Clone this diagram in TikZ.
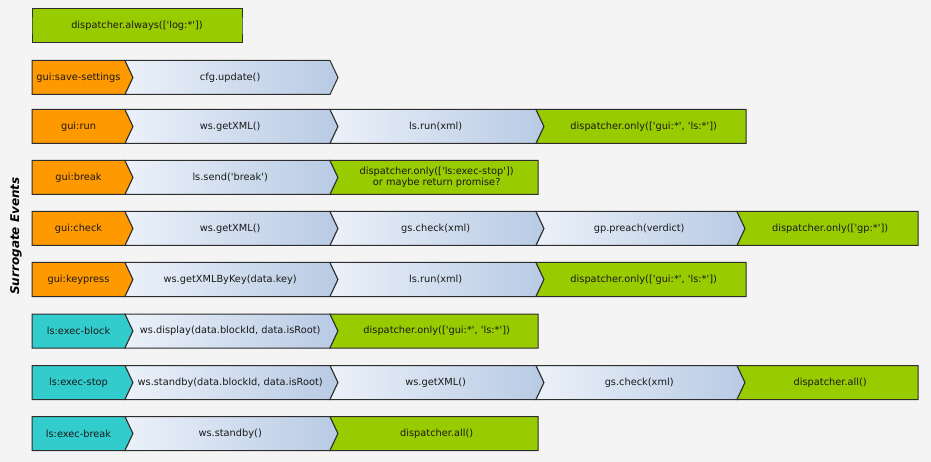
\documentclass[tikz,border=0pt]{standalone}
\usepackage{fontspec}
\setmainfont{DejaVu Sans}[Ligatures=TeXOff]
\usepackage{xcolor}
\definecolor{evorange}{RGB}{255,153,0}
\definecolor{evcyan}{RGB}{51,204,204}
\definecolor{dispgreen}{RGB}{153,204,0}
\definecolor{steplight}{RGB}{235,241,249}
\definecolor{stepdark}{RGB}{184,202,228}
\definecolor{edgegray}{RGB}{45,45,45}
\definecolor{canvas}{RGB}{244,244,244}

\tikzset{
  seg/.style={draw=edgegray,line width=1pt,line join=miter},
  guiev/.style={seg,fill=evorange},
  lsev/.style={seg,fill=evcyan},
  callstep/.style={seg,left color=steplight,right color=stepdark},
  disp/.style={seg,fill=dispgreen},
  lbl/.style={text=black!90,font=\fontsize{9.8}{11.5}\selectfont,align=center,inner sep=0pt}
}
% #1 style, #2 x0, #3 x1, #4 top, #5 notch, #6 tip, #7 name, #8 text
\newcommand{\chev}[8]{%
  \path[#1] (#2,#4) -- (#3,#4) -- ({#3+#6},{#4+17}) -- (#3,{#4+34})
    -- (#2,{#4+34}) -- ({#2+#5},{#4+17}) -- cycle;
  \node[lbl] (#7) at ({(#2+#3)/2+#5/3},{#4+17}) {#8};}

\begin{document}
\begin{tikzpicture}[x=1pt,y=-1pt]
  \fill[canvas] (0,0) rectangle (931,462);
  \useasboundingbox (0,0) rectangle (931,462);

  \node[rotate=90,font=\bfseries\itshape\fontsize{12}{14}\selectfont] (title) at (16,236) {Surrogate Events};

  % always
  \chev{disp}{32}{242}{9}{0}{0}{always}{dispatcher.always(['log:*'])}

  % gui events
  \chev{guiev}{32}{125}{60.5}{0}{8}{save}{gui:save-settings}
  \chev{callstep}{125}{330}{60.5}{8}{8}{saveA}{cfg.update()}

  \chev{guiev}{32}{125}{109.5}{0}{8}{run}{gui:run}
  \chev{callstep}{125}{330}{109.5}{8}{8}{runA}{ws.getXML()}
  \chev{callstep}{330}{536}{109.5}{8}{8}{runB}{ls.run(xml)}
  \chev{disp}{536}{746}{109.5}{8}{0}{runC}{dispatcher.only(['gui:*', 'ls:*'])}

  \chev{guiev}{32}{125}{160.5}{0}{8}{brk}{gui:break}
  \chev{callstep}{125}{330}{160.5}{8}{8}{brkA}{ls.send('break')}
  \chev{disp}{330}{538}{160.5}{8}{0}{brkB}{dispatcher.only(['ls:exec-stop'])\\or maybe return promise?}

  \chev{guiev}{32}{125}{211.5}{0}{8}{chk}{gui:check}
  \chev{callstep}{125}{330}{211.5}{8}{8}{chkA}{ws.getXML()}
  \chev{callstep}{330}{536}{211.5}{8}{8}{chkB}{gs.check(xml)}
  \chev{callstep}{536}{737}{211.5}{8}{8}{chkC}{gp.preach(verdict)}
  \chev{disp}{737}{918}{211.5}{8}{0}{chkD}{dispatcher.only(['gp:*'])}

  \chev{guiev}{32}{125}{262.5}{0}{8}{key}{gui:keypress}
  \chev{callstep}{125}{330}{262.5}{8}{8}{keyA}{ws.getXMLByKey(data.key)}
  \chev{callstep}{330}{536}{262.5}{8}{8}{keyB}{ls.run(xml)}
  \chev{disp}{536}{746}{262.5}{8}{0}{keyC}{dispatcher.only(['gui:*', 'ls:*'])}

  % ls events
  \chev{lsev}{32}{125}{314}{0}{8}{blk}{ls:exec-block}
  \chev{callstep}{125}{330}{314}{8}{8}{blkA}{ws.display(data.blockId, data.isRoot)}
  \chev{disp}{330}{538}{314}{8}{0}{blkB}{dispatcher.only(['gui:*', 'ls:*'])}

  \chev{lsev}{32}{125}{365.5}{0}{8}{stp}{ls:exec-stop}
  \chev{callstep}{125}{330}{365.5}{8}{8}{stpA}{ws.standby(data.blockId, data.isRoot)}
  \chev{callstep}{330}{536}{365.5}{8}{8}{stpB}{ws.getXML()}
  \chev{callstep}{536}{737}{365.5}{8}{8}{stpC}{gs.check(xml)}
  \chev{disp}{737}{918}{365.5}{8}{0}{stpD}{dispatcher.all()}

  \chev{lsev}{32}{125}{416.5}{0}{8}{xbr}{ls:exec-break}
  \chev{callstep}{125}{330}{416.5}{8}{8}{xbrA}{ws.standby()}
  \chev{disp}{330}{538}{416.5}{8}{0}{xbrB}{dispatcher.all()}
\end{tikzpicture}
\end{document}
